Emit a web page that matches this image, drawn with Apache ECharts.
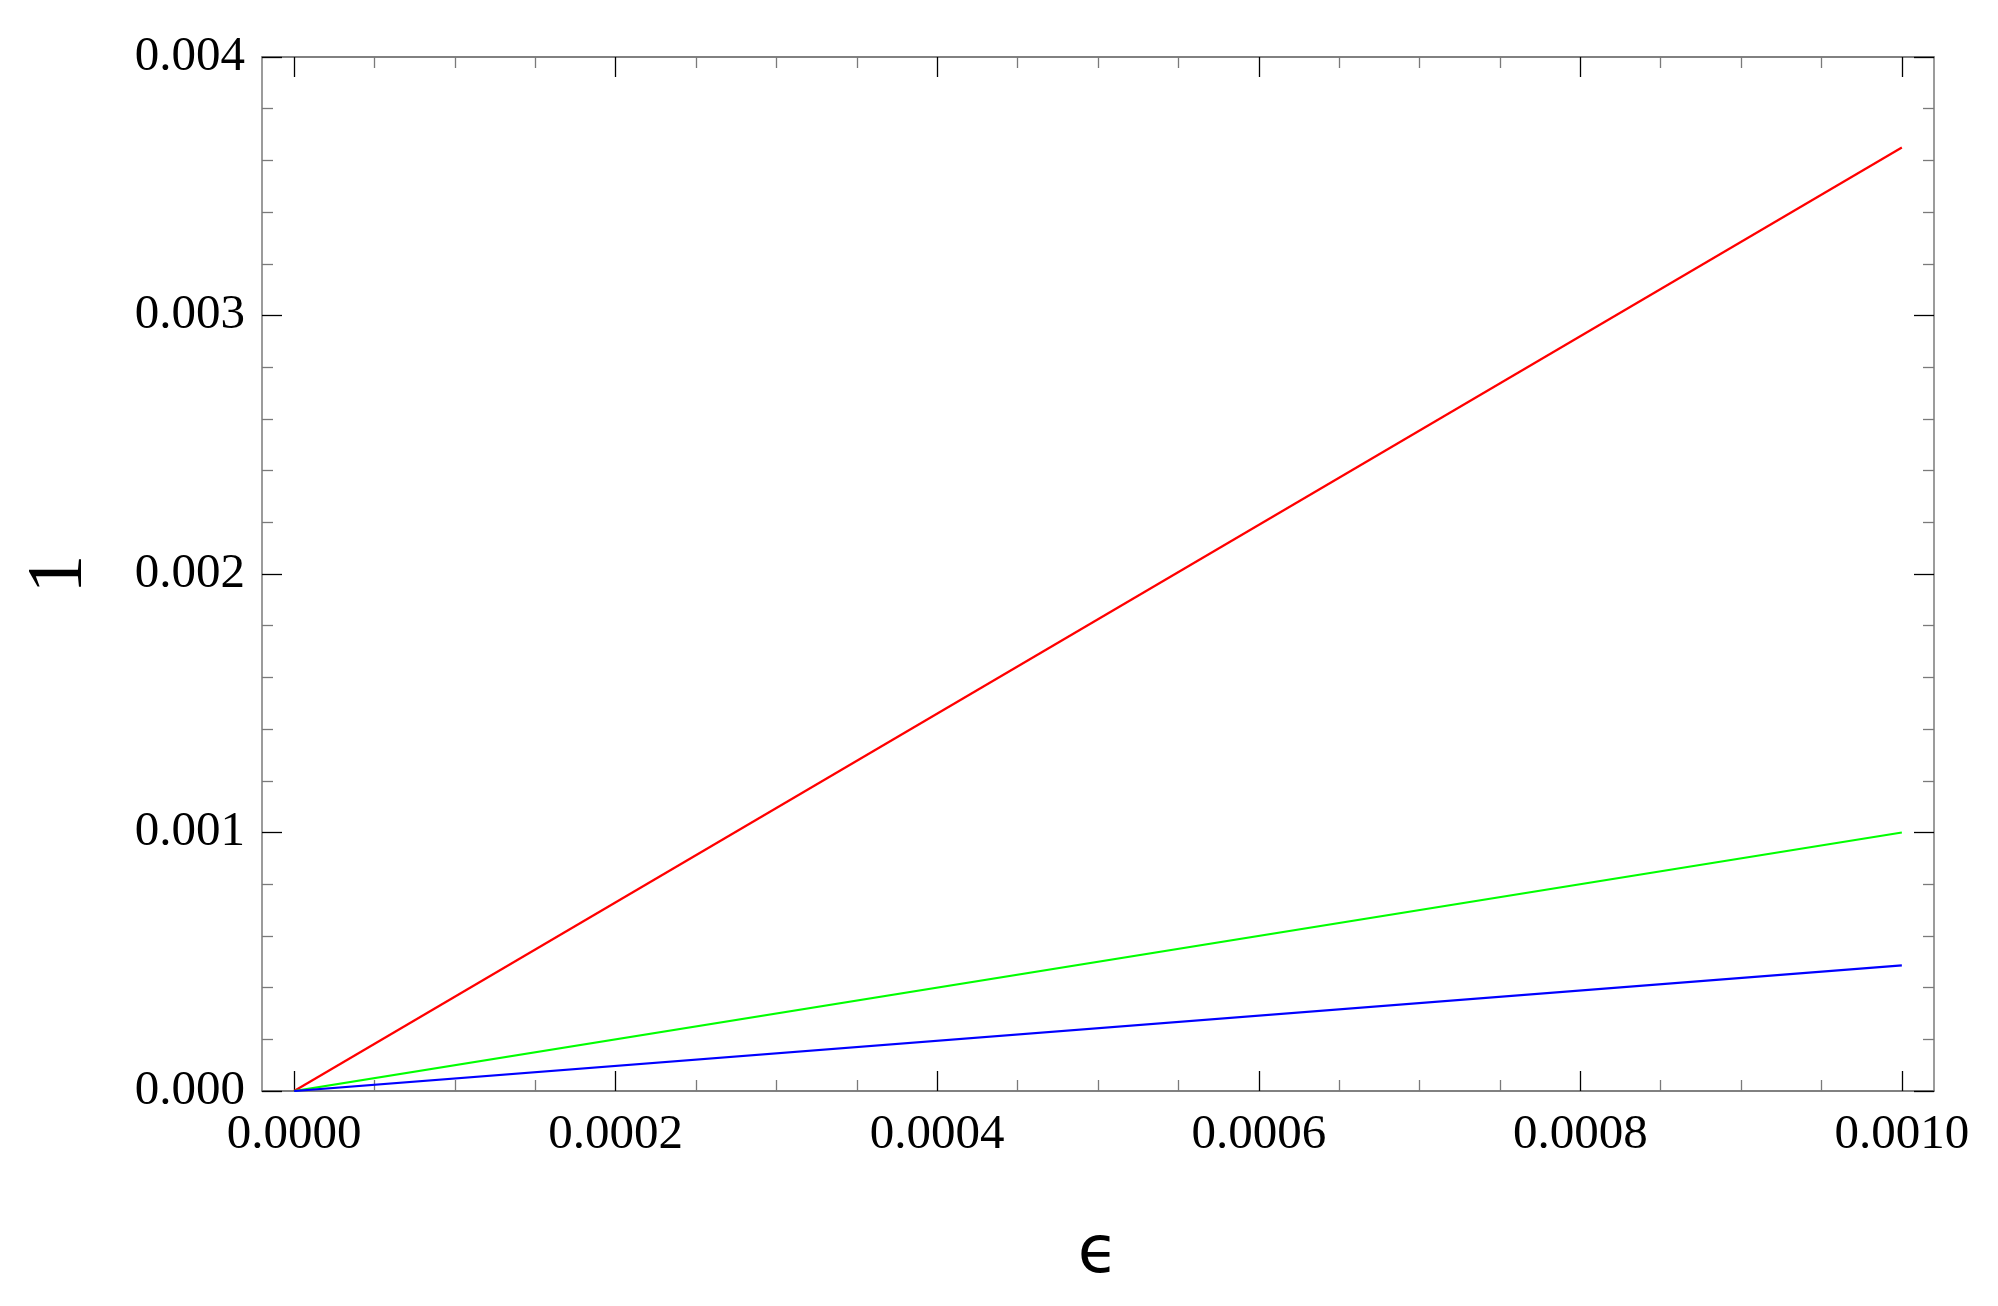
<!DOCTYPE html>
<html>
<head>
<meta charset="utf-8">
<script src="https://cdn.jsdelivr.net/npm/echarts@6/dist/echarts.min.js"></script>
<style>
  html, body { margin: 0; padding: 0; background: #fff; }
  #chart { width: 1998px; height: 1306px; }
</style>
</head>
<body>
<div id="chart"></div>
<script>
// x values of the lines (epsilon)
var epsValues = [0, 0.001];
// the three straight lines, end values
var redValues = [0, 0.00365];
var greenValues = [0, 0.001];
var blueValues = [0, 0.000486];

// frame ticks
var xMajorTicks = [0, 0.0002, 0.0004, 0.0006, 0.0008, 0.001];
var xMinorTicks = [0.00005, 0.0001, 0.00015, 0.00025, 0.0003, 0.00035,
  0.00045, 0.0005, 0.00055, 0.00065, 0.0007, 0.00075,
  0.00085, 0.0009, 0.00095];
var xMin = -0.00002, xMax = 0.00102;
var yMin = 0, yMax = 0.004, yStep = 0.001;

function pairs(xs, ys) {
  var out = [];
  for (var i = 0; i < xs.length; i++) out.push([xs[i], ys[i]]);
  return out;
}

var frameColor = '#7a7a7a';
var serif = 'Liberation Serif';

function xAxisDef(pos, ticks, len, color, withLabels) {
  return {
    type: 'value', position: pos, min: xMin, max: xMax,
    axisLine: { show: true, onZero: false, lineStyle: { color: frameColor, width: 1.5 } },
    axisTick: { show: true, inside: true, length: len, customValues: ticks, lineStyle: { color: color, width: 1.3 } },
    axisLabel: withLabels ? {
      show: true, customValues: ticks, margin: 20,
      fontFamily: serif, fontSize: 49, color: '#000',
      formatter: function (v) { return v.toFixed(4); }
    } : { show: false },
    splitLine: { show: false }
  };
}

function yAxisDef(pos, withLabels) {
  return {
    type: 'value', position: pos, min: yMin, max: yMax, interval: yStep,
    axisLine: { show: true, onZero: false, lineStyle: { color: frameColor, width: 1.5 } },
    axisTick: { show: true, inside: true, length: 20, lineStyle: { color: '#000', width: 1.3 } },
    minorTick: { show: true, splitNumber: 5, length: 11, lineStyle: { color: frameColor, width: 1.3 } },
    axisLabel: withLabels ? {
      show: true, margin: 17,
      fontFamily: serif, fontSize: 49, color: '#000',
      formatter: function (v) { return v.toFixed(3); }
    } : { show: false },
    splitLine: { show: false },
    minorSplitLine: { show: false }
  };
}

var xAxes = [
  xAxisDef('bottom', xMajorTicks, 20, '#000', true),
  xAxisDef('bottom', xMinorTicks, 11, frameColor, false),
  xAxisDef('top', xMajorTicks, 20, '#000', false),
  xAxisDef('top', xMinorTicks, 11, frameColor, false)
];
xAxes[0].name = 'ϵ';
xAxes[0].nameLocation = 'middle';
xAxes[0].nameGap = 131;
xAxes[0].nameTextStyle = { fontFamily: 'DejaVu Sans', fontSize: 66, color: '#000' };

var yAxes = [yAxisDef('left', true), yAxisDef('right', false)];
yAxes[0].name = '1';
yAxes[0].nameLocation = 'middle';
yAxes[0].nameGap = 163;
yAxes[0].nameTextStyle = { fontFamily: serif, fontSize: 78, color: '#000' };

var myChart = echarts.init(document.getElementById('chart'));
myChart.setOption({
  animation: false,
  backgroundColor: '#fff',
  grid: { left: 262, right: 64, top: 57, bottom: 215 },
  xAxis: xAxes,
  yAxis: yAxes,
  series: [
    { type: 'line', data: pairs(epsValues, redValues), showSymbol: false, lineStyle: { color: '#ff0000', width: 2.2 } },
    { type: 'line', data: pairs(epsValues, greenValues), showSymbol: false, lineStyle: { color: '#00ff00', width: 2.2 } },
    { type: 'line', data: pairs(epsValues, blueValues), showSymbol: false, lineStyle: { color: '#0000ff', width: 2.2 } }
  ]
});
</script>
</body>
</html>
